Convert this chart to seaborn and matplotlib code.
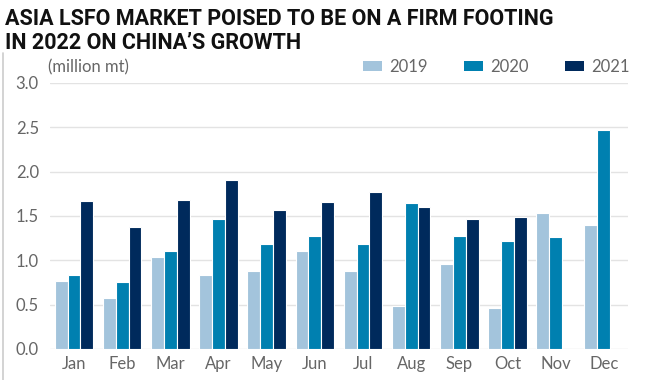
import matplotlib
matplotlib.use("Agg")
import matplotlib.pyplot as plt
import seaborn as sns
import pandas as pd
from matplotlib.patches import Patch

months = ["Jan", "Feb", "Mar", "Apr", "May", "Jun", "Jul", "Aug", "Sep", "Oct", "Nov", "Dec"]
v2019 = [0.77, 0.58, 1.04, 0.83, 0.88, 1.10, 0.88, 0.48, 0.96, 0.46, 1.53, 1.40]
v2020 = [0.83, 0.75, 1.10, 1.46, 1.18, 1.27, 1.18, 1.64, 1.27, 1.22, 1.26, 2.47]
v2021 = [1.67, 1.38, 1.68, 1.90, 1.57, 1.66, 1.77, 1.60, 1.47, 1.49, None, None]
years = ["2019", "2020", "2021"]
colors = ["#a3c4dc", "#0080b0", "#002a5c"]
yticks = [0.0, 0.5, 1.0, 1.5, 2.0, 2.5, 3.0]

rows = []
for y, vals in zip(years, [v2019, v2020, v2021]):
    for m, v in zip(months, vals):
        rows.append({"month": m, "year": y, "value": v})
df = pd.DataFrame(rows)

sns.set_style("white")
plt.rcParams["font.family"] = ["Lato", "DejaVu Sans"]

fig = plt.figure(figsize=(6.7, 3.8), dpi=100)
ax = fig.add_axes([0.0746, 0.0816, 0.8624, 0.7004])

sns.barplot(data=df, x="month", y="value", hue="year", order=months, hue_order=years,
            palette=colors, width=0.8, edgecolor="white", linewidth=0.8,
            saturation=1, ax=ax, legend=False)

ax.set_ylim(0, 3.0)
ax.set_xlim(-0.5, 11.5)
ax.set_yticks(yticks)
ax.set_yticklabels([f"{t:.1f}" for t in yticks])
ax.yaxis.grid(True, color="#e3e3e3", linewidth=1)
ax.set_axisbelow(True)
for s in ax.spines.values():
    s.set_visible(False)
ax.tick_params(axis="both", length=0, labelsize=12, colors="#666666")
ax.tick_params(axis="y", pad=8)
ax.tick_params(axis="x", pad=5)
ax.set_xlabel("")
ax.set_ylabel("")

fig.text(0.008, 0.978, "ASIA LSFO MARKET POISED TO BE ON A FIRM FOOTING\nIN 2022 ON CHINA\u2019S GROWTH",
         ha="left", va="top", fontsize=15.5, fontweight="bold", color="#111111",
         family=["Roboto", "DejaVu Sans"], linespacing=1.1)
fig.text(0.072, 0.822, "(million mt)", ha="left", va="center", fontsize=12, color="#666666")

handles = [Patch(facecolor=c, edgecolor="none") for c in colors]
leg = fig.legend(handles, years, loc="center right", bbox_to_anchor=(0.962, 0.824), ncol=3,
                 frameon=False, fontsize=12, handlelength=1.1, handleheight=0.6,
                 handletextpad=0.45, columnspacing=2.2, labelcolor="#666666")

# thin frame on the left like the reference image border
fig.add_artist(plt.Line2D([0.004, 0.004], [0.0, 0.86], color="#cccccc", linewidth=1.2,
                          transform=fig.transFigure))

fig.savefig("out.png", dpi=100)
